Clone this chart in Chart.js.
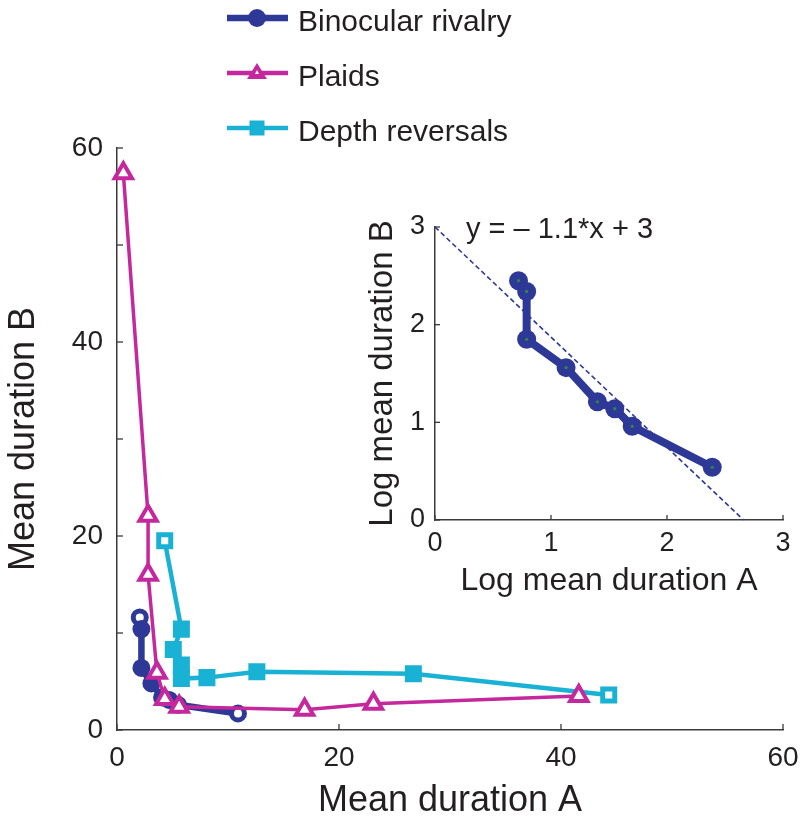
<!DOCTYPE html>
<html>
<head>
<meta charset="utf-8">
<script src="https://cdn.jsdelivr.net/npm/chart.js@4"></script>
<style>
  html, body { margin: 0; padding: 0; background: #ffffff; }
  #wrap { position: relative; width: 800px; height: 824px; overflow: hidden; }
  #main { position: absolute; left: 0; top: 0; }
  #inset { position: absolute; left: 363px; top: 205px; }
</style>
</head>
<body>
<div id="wrap">
  <canvas id="main" width="800" height="824"></canvas>
  <canvas id="inset" width="437" height="395"></canvas>
</div>
<script>
// ---------------- data ----------------
const seriesNames = ['Binocular rivalry', 'Plaids', 'Depth reversals'];

const binocularX = [2.05, 2.2, 2.2, 3.1, 4.06, 4.7, 5.5, 10.9];
const binocularY = [11.6, 10.4, 6.4, 4.8, 3.35, 3.1, 2.6, 1.7];

const plaidsX = [0.57, 2.8, 2.8, 3.6, 4.3, 5.6, 16.9, 23.1, 41.6];
const plaidsY = [57.4, 22.1, 16.0, 5.9, 3.2, 2.4, 2.1, 2.7, 3.5];

const depthX = [4.3, 5.8, 5.07, 5.8, 5.8, 8.1, 12.6, 26.7, 44.3];
const depthY = [19.5, 10.4, 8.3, 6.7, 5.3, 5.4, 6.0, 5.8, 3.6];

// inset (log values)
const logA = [0.72, 0.79, 0.79, 1.13, 1.40, 1.55, 1.70, 2.39];
const logB = [2.45, 2.34, 1.85, 1.56, 1.21, 1.14, 0.96, 0.54];
const fitX = [0, 2.66];
const fitY = [3, 0];
const fitLabel = 'y = \u2013 1.1*x + 3';

const mainXTicks = [0, 20, 40, 60];
const mainYTicks = [0, 10, 20, 30, 40, 50, 60];
const mainYLabelled = [0, 20, 40, 60];
const insetTicks = [0, 1, 2, 3];

// ---------------- styling ----------------
const FONT = "'Liberation Sans', Arial, Helvetica, sans-serif";
const TXT = '#231f20';
const AXIS = '#3a3a3a';
const BLUE = '#2e3896';
const MAGENTA = '#c4289c';
const CYAN = '#19b2d4';
const GREEN = '#2f8a4a';

const pts = (xs, ys) => xs.map((x, i) => ({ x: x, y: ys[i] }));
const isEnd = (ctx) => ctx.dataIndex === 0 || ctx.dataIndex === ctx.dataset.data.length - 1;

// inward tick marks (MATLAB style), drawn at scale tick values
const inwardTicks = {
  id: 'inwardTicks',
  afterDraw(chart, args, opts) {
    const { ctx, chartArea } = chart;
    const len = opts.len || 6;
    ctx.save();
    ctx.strokeStyle = AXIS;
    ctx.lineWidth = 1.3;
    const xs = chart.scales.x, ys = chart.scales.y;
    xs.ticks.forEach(t => {
      const p = xs.getPixelForValue(t.value);
      ctx.beginPath();
      ctx.moveTo(p, chartArea.bottom);
      ctx.lineTo(p, chartArea.bottom - len);
      ctx.stroke();
    });
    ys.ticks.forEach(t => {
      const p = ys.getPixelForValue(t.value);
      ctx.beginPath();
      ctx.moveTo(chartArea.left, p);
      ctx.lineTo(chartArea.left + len, p);
      ctx.stroke();
    });
    ctx.restore();
  }
};

// legend drawn at top of the figure
const topLegend = {
  id: 'topLegend',
  afterDraw(chart) {
    const ctx = chart.ctx;
    const x0 = 227, x1 = 288, xm = 257, tx = 298;
    const rows = [18, 73, 128];
    ctx.save();
    // row 1: binocular
    ctx.strokeStyle = BLUE; ctx.lineWidth = 6.5;
    ctx.beginPath(); ctx.moveTo(x0, rows[0]); ctx.lineTo(x1, rows[0]); ctx.stroke();
    ctx.fillStyle = BLUE;
    ctx.beginPath(); ctx.arc(xm, rows[0], 9, 0, Math.PI * 2); ctx.fill();
    // row 2: plaids
    ctx.strokeStyle = MAGENTA; ctx.lineWidth = 4.5;
    ctx.beginPath(); ctx.moveTo(x0, rows[1]); ctx.lineTo(x1, rows[1]); ctx.stroke();
    ctx.fillStyle = MAGENTA;
    ctx.beginPath();
    ctx.moveTo(xm, rows[1] - 10); ctx.lineTo(xm + 10, rows[1] + 6); ctx.lineTo(xm - 10, rows[1] + 6);
    ctx.closePath(); ctx.fill();
    ctx.fillStyle = '#ffffff';
    ctx.beginPath();
    ctx.moveTo(xm, rows[1] - 3); ctx.lineTo(xm + 2, rows[1] + 1); ctx.lineTo(xm - 2, rows[1] + 1);
    ctx.closePath(); ctx.fill();
    // row 3: depth
    ctx.strokeStyle = CYAN; ctx.lineWidth = 4.5;
    ctx.beginPath(); ctx.moveTo(x0, rows[2]); ctx.lineTo(x1, rows[2]); ctx.stroke();
    ctx.fillStyle = CYAN;
    ctx.fillRect(xm - 7.5, rows[2] - 7.5, 15, 15);
    // text
    ctx.fillStyle = TXT;
    ctx.font = '30px ' + FONT;
    ctx.textBaseline = 'middle';
    ctx.textAlign = 'left';
    seriesNames.forEach((n, i) => ctx.fillText(n, tx, rows[i] + 5));
    ctx.restore();
  }
};

// equation label inside the inset
const eqLabel = {
  id: 'eqLabel',
  afterDraw(chart) {
    const ctx = chart.ctx, a = chart.chartArea;
    ctx.save();
    ctx.fillStyle = TXT;
    ctx.font = '29px ' + FONT;
    ctx.textBaseline = 'alphabetic';
    ctx.textAlign = 'left';
    ctx.fillText(fitLabel, a.left + 31, a.top + 11);
    ctx.restore();
  }
};

function zeroPad(s) { s.paddingLeft = 0; s.paddingRight = 0; s.paddingTop = 0; s.paddingBottom = 0; }

// ---------------- main chart ----------------
new Chart(document.getElementById('main'), {
  type: 'scatter',
  data: {
    datasets: [
      {
        label: seriesNames[0],
        data: pts(binocularX, binocularY),
        showLine: true,
        borderColor: BLUE,
        borderWidth: 6.5,
        pointRadius: 6.5,
        pointBorderWidth: 5,
        pointBorderColor: BLUE,
        pointBackgroundColor: (c) => isEnd(c) ? '#ffffff' : BLUE,
        pointStyle: 'circle',
        order: 3,
        clip: false
      },
      {
        label: seriesNames[2],
        data: pts(depthX, depthY),
        showLine: true,
        borderColor: CYAN,
        borderWidth: 4.5,
        pointStyle: 'rect',
        pointRadius: 8.5,
        pointBorderWidth: 5,
        pointBorderColor: CYAN,
        pointBackgroundColor: (c) => isEnd(c) ? '#ffffff' : CYAN,
        order: 2,
        clip: false
      },
      {
        label: seriesNames[1],
        data: pts(plaidsX, plaidsY),
        showLine: true,
        borderColor: MAGENTA,
        borderWidth: 3.5,
        pointStyle: 'triangle',
        pointRadius: 10,
        pointBorderWidth: 4,
        pointBorderColor: MAGENTA,
        pointBackgroundColor: '#ffffff',
        order: 1,
        clip: false
      }
    ]
  },
  options: {
    responsive: false,
    animation: false,
    devicePixelRatio: 1,
    layout: { padding: { left: 0, right: 17, top: 148, bottom: 0 } },
    plugins: {
      legend: { display: false },
      tooltip: { enabled: false },
      inwardTicks: { len: 6 }
    },
    scales: {
      x: {
        type: 'linear',
        min: 0, max: 60,
        afterBuildTicks: (s) => { s.ticks = mainXTicks.map(v => ({ value: v })); },
        afterFit: (s) => { s.height = 94; zeroPad(s); },
        ticks: {
          font: { family: FONT, size: 28 },
          color: TXT,
          padding: 11,
          maxRotation: 0,
          autoSkip: false
        },
        grid: { display: false, drawTicks: false },
        border: { display: true, color: AXIS, width: 1.5 },
        title: {
          display: true,
          text: 'Mean duration A',
          color: TXT,
          font: { family: FONT, size: 36, lineHeight: 1.28 },
          padding: 0
        }
      },
      y: {
        type: 'linear',
        min: 0, max: 60,
        afterBuildTicks: (s) => { s.ticks = mainYTicks.map(v => ({ value: v })); },
        afterFit: (s) => { s.width = 117; zeroPad(s); },
        ticks: {
          font: { family: FONT, size: 28 },
          color: TXT,
          padding: 14,
          autoSkip: false,
          callback: (v) => mainYLabelled.includes(v) ? String(v) : ''
        },
        grid: { display: false, drawTicks: false },
        border: { display: true, color: AXIS, width: 1.5 },
        title: {
          display: true,
          text: 'Mean duration B',
          color: TXT,
          font: { family: FONT, size: 36, lineHeight: 1.33 },
          padding: 0
        }
      }
    }
  },
  plugins: [inwardTicks, topLegend]
});

// ---------------- inset chart ----------------
new Chart(document.getElementById('inset'), {
  type: 'scatter',
  data: {
    datasets: [
      {
        label: 'fit',
        data: pts(fitX, fitY),
        showLine: true,
        borderColor: BLUE,
        borderWidth: 1.6,
        borderDash: [5, 3],
        pointRadius: 0,
        order: 1,
        clip: false
      },
      {
        label: 'centres',
        data: pts(logA, logB),
        showLine: false,
        pointRadius: 1.6,
        pointBorderWidth: 0,
        pointBackgroundColor: GREEN,
        order: 0,
        clip: false
      },
      {
        label: seriesNames[0],
        data: pts(logA, logB),
        showLine: true,
        borderColor: BLUE,
        borderWidth: 8,
        pointRadius: 9.5,
        pointBorderWidth: 0,
        pointBackgroundColor: BLUE,
        order: 2,
        clip: false
      }
    ]
  },
  options: {
    responsive: false,
    animation: false,
    devicePixelRatio: 1,
    layout: { padding: { left: 0, right: 17, top: 22, bottom: 0 } },
    plugins: {
      legend: { display: false },
      tooltip: { enabled: false },
      inwardTicks: { len: 5 }
    },
    scales: {
      x: {
        type: 'linear',
        min: 0, max: 3,
        afterBuildTicks: (s) => { s.ticks = insetTicks.map(v => ({ value: v })); },
        afterFit: (s) => { s.height = 80; zeroPad(s); },
        ticks: { font: { family: FONT, size: 27 }, color: TXT, padding: 7, maxRotation: 0, autoSkip: false },
        grid: { display: false, drawTicks: false },
        border: { display: true, color: AXIS, width: 1.5 },
        title: {
          display: true,
          text: 'Log mean duration A',
          color: TXT,
          font: { family: FONT, size: 32, lineHeight: 1.2 },
          padding: 0
        }
      },
      y: {
        type: 'linear',
        min: 0, max: 3,
        afterBuildTicks: (s) => { s.ticks = insetTicks.map(v => ({ value: v })); },
        afterFit: (s) => { s.width = 72; zeroPad(s); },
        ticks: { font: { family: FONT, size: 27 }, color: TXT, padding: 10, autoSkip: false },
        grid: { display: false, drawTicks: false },
        border: { display: true, color: AXIS, width: 1.5 },
        title: {
          display: true,
          text: 'Log mean duration B',
          color: TXT,
          font: { family: FONT, size: 33, lineHeight: 1.2 },
          padding: 0
        }
      }
    }
  },
  plugins: [inwardTicks, eqLabel]
});
</script>
</body>
</html>
